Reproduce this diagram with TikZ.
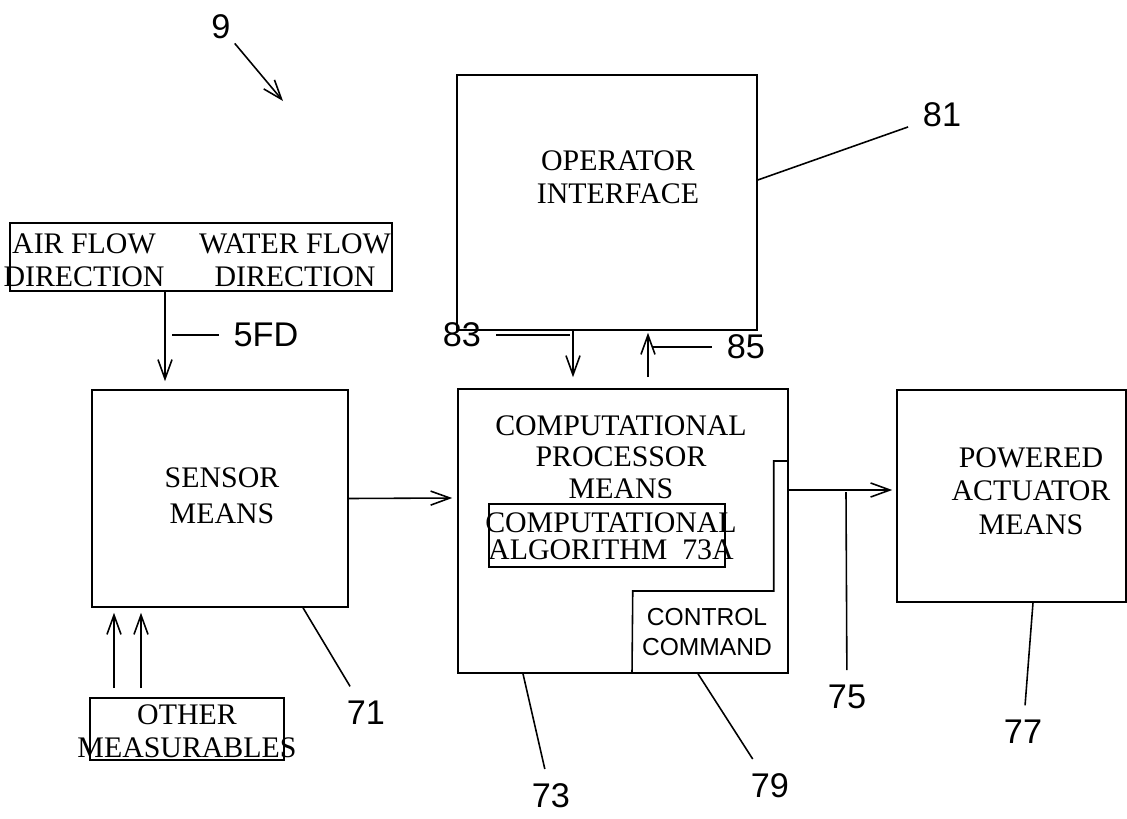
\documentclass[tikz,border=0pt]{standalone}
\usepackage{fontspec}
\setmainfont{Liberation Serif}
\setsansfont{Liberation Sans}
\usetikzlibrary{arrows.meta}
\usetikzlibrary{calc}

\begin{document}
\begin{tikzpicture}[
x=0.02cm, y=-0.02cm,
line width=0.9pt,
>={Straight Barb[length=11pt,width=8pt]},
blockbox/.style={draw, rectangle, inner sep=0},
txt/.style={font=\fontsize{17}{19}\selectfont, align=center, inner sep=0},
ctl/.style={font=\sffamily\fontsize{14}{17}\selectfont, align=center, inner sep=0},
num/.style={font=\sffamily\fontsize{19.5}{21}\selectfont, inner sep=8pt}
]
\useasboundingbox (0,0) rectangle (1127,819);
% Boxes
\node[blockbox, minimum width=6cm, minimum height=5.1cm] (oper) at (607,202.5) {};
\node[blockbox, minimum width=7.64cm, minimum height=1.36cm] (flow) at (201,257) {};
\node[blockbox, minimum width=5.12cm, minimum height=4.34cm] (sensor) at (220,498.5) {};
\node[blockbox, minimum width=3.88cm, minimum height=1.24cm] (other) at (187,729) {};
\node[blockbox, minimum width=6.6cm, minimum height=5.68cm] (comp) at (623,531) {};
\node[blockbox, minimum width=4.72cm, minimum height=1.26cm] (algo) at (607,535.5) {};
\node[blockbox, minimum width=4.58cm, minimum height=4.24cm] (act) at (1011.5,496) {};
\draw ($(comp.east)+(0,-70)$) -- ++(-15,0) -- ++(0,130) -- ++(-141,0) -- ($(comp.south)+(9,0)$);

% Texts
\node[txt] (opertxt) at (618,177.5) {OPERATOR\\INTERFACE};
\node[txt] (airtxt) at (84,260) {AIR FLOW\\DIRECTION};
\node[txt] (watertxt) at (295,260) {WATER FLOW\\DIRECTION};
\node[txt, font=\fontsize{17}{20.5}\selectfont] (sensortxt) at (222,496) {SENSOR\\MEANS};
\node[txt, font=\fontsize{17}{17.8}\selectfont] (comptxt) at (621,457) {COMPUTATIONAL\\PROCESSOR\\MEANS};
\node[txt, font=\fontsize{17}{15.5}\selectfont] (algotxt) at (611,536) {COMPUTATIONAL\\ALGORITHM\ \ 73A};
\node[ctl] (ctltxt) at (707,632) {CONTROL\\COMMAND};
\node[txt] (acttxt) at (1031,491) {POWERED\\ACTUATOR\\MEANS};
\node[txt, font=\fontsize{17}{18.7}\selectfont] (othertxt) at (187,731.5) {OTHER\\MEASURABLES};

% Reference numbers
\node[num, inner sep=2pt] (l9) at (221,27) {9};
\foreach \name/\x/\y in {81/942/115, 5FD/266/335, 83/462/335, 85/746/347, 71/366/713, 73/551/796, 79/770/786, 75/847/697, 77/1023/732}
  \node[num] (l\name) at (\x,\y) {\name};
\coordinate (c9) at (283,101);
\coordinate (c5FD) at (172,335);
\coordinate (c83) at (570,335);
\coordinate (c85) at (652,347);
\coordinate (c75) at (846,492);

% Arrows
\draw[->] (l9) -- (c9);
\draw[->] ($(flow.south)+(-36,0)$) -- ($(sensor.north)+(-55,-8)$);
\draw[->] ($(oper.south)+(-34,0)$) -- ($(comp.north)+(-50,-11)$);
\draw[->] ($(comp.north)+(25,-11)$) -- ($(oper.south)+(41,2)$);
\draw[->] (sensor.east) -- ($(comp.west)+(-5,-33)$);
\draw[->] ($(comp.east)+(0,-41)$) -- ($(act.west)+(-4,-6)$);
\foreach \dx in {-73,-46}
  \draw[->] ($(other.north)+(\dx,-9)$) -- ($(sensor.south)+(\dx-33,5)$);

% Leaders
\draw ($(oper.east)+(0,-22.5)$) -- (l81);
\draw (c5FD) -- (l5FD);
\draw (c83) -- (l83);
\draw (c85) -- (l85);
\draw ($(sensor.south)+(83,0)$) -- (l71);
\draw ($(comp.south)+(-100,0)$) -- (l73);
\draw ($(comp.south)+(75,0)$) -- (l79);
\draw (c75) -- (l75);
\draw ($(act.south)+(21.5,0)$) -- (l77);
\end{tikzpicture}
\end{document}
